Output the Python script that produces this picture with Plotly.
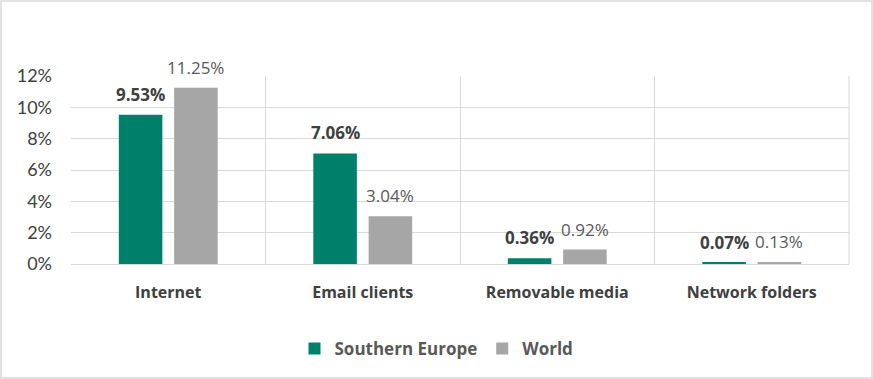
import plotly.graph_objects as go

categories = ["Internet", "Email clients", "Removable media", "Network folders"]
southern_europe = [9.53, 7.06, 0.36, 0.07]
world = [11.25, 3.04, 0.92, 0.13]
y_ticks = [0, 2, 4, 6, 8, 10, 12]
y_tick_labels = [f"{v}%" for v in y_ticks]

FONT = "Open Sans, Noto Sans, sans-serif"
TICKFONT = "Lato, Open Sans, sans-serif"

W, H = 873, 379
l, r, t, b = 71, 24, 76, 115
pw, ph = W - l - r, H - t - b
BARGAP, GROUPGAP = 0.431, 0.213
cat_w = pw / len(categories)
slot = cat_w * (1 - BARGAP) / 2

fig = go.Figure()
fig.add_trace(go.Bar(name="Southern Europe", x=categories, y=southern_europe,
                     marker_color="#00806B", marker_line_width=0, hoverinfo="skip"))
fig.add_trace(go.Bar(name="World", x=categories, y=world,
                     marker_color="#A6A6A6", marker_line_width=0, hoverinfo="skip"))

annotations = []
for c, v in zip(categories, southern_europe):
    annotations.append(dict(x=c, y=v, xref="x", yref="y", text=f"{v:.2f}%", showarrow=False,
                            xanchor="center", yanchor="bottom", xshift=-slot / 2, yshift=7,
                            font=dict(family=FONT, size=17, color="#404040", weight="bold")))
for c, v in zip(categories, world):
    annotations.append(dict(x=c, y=v, xref="x", yref="y", text=f"{v:.2f}%", showarrow=False,
                            xanchor="center", yanchor="bottom", xshift=slot / 2, yshift=7,
                            font=dict(family=FONT, size=17, color="#595959")))

fig.update_layout(
    width=W, height=H,
    margin=dict(l=l, r=r, t=t, b=b),
    paper_bgcolor="white", plot_bgcolor="white",
    barmode="group", bargap=BARGAP, bargroupgap=GROUPGAP,
    font=dict(family=FONT, color="#595959"),
    showlegend=True,
    legend=dict(orientation="h", x=(W / 2 - l) / pw, xanchor="center", y=-(349 - 264) / ph,
                yanchor="middle", itemwidth=30,
                font=dict(family=FONT, size=17, color="#595959", weight="bold"),
                traceorder="normal"),
    xaxis=dict(
        type="category", tickson="boundaries", showgrid=True, gridcolor="#D9D9D9", gridwidth=1,
        ticks="", showline=True, linecolor="#D9D9D9", linewidth=1,
        tickfont=dict(family=FONT, size=16, color="#404040", weight="bold"),
        ticklabelstandoff=14,
    ),
    yaxis=dict(
        range=[0, 12], tickvals=y_ticks, ticktext=y_tick_labels,
        showgrid=True, gridcolor="#D9D9D9", gridwidth=1, zeroline=False,
        showline=False, ticks="",
        tickfont=dict(family=TICKFONT, size=18, color="#404040"),
        ticklabelstandoff=18,
    ),
    annotations=annotations,
    shapes=[dict(type="line", xref="paper", yref="paper", x0=1, x1=1, y0=0, y1=1,
                 line=dict(color="#D9D9D9", width=1)),
            dict(type="rect", xref="paper", yref="paper",
                 x0=-(l - 1) / pw, x1=1 + (r - 1) / pw, y0=-(b - 1) / ph, y1=1 + (t - 1) / ph,
                 line=dict(color="#D9D9D9", width=1.5), layer="below")],
)

fig.write_html("out.html", config={"displayModeBar": False},
               post_script="document.body.style.margin='0';document.body.style.overflow='hidden';")
